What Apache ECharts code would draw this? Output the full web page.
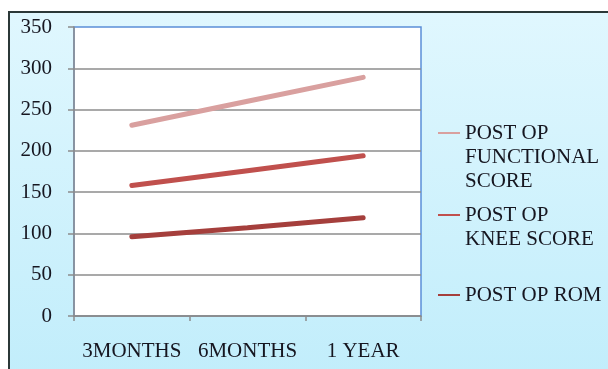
<!DOCTYPE html>
<html>
<head>
<meta charset="utf-8">
<script src="https://cdn.jsdelivr.net/npm/echarts@6/dist/echarts.min.js"></script>
<style>
  html, body { margin: 0; padding: 0; background: #fff; }
  #chart { width: 608px; height: 369px; }
</style>
</head>
<body>
<div id="chart"></div>
<script>
var categories = ['3MONTHS', '6MONTHS', '1 YEAR'];
var functionalScore = [231, 260, 289];
var kneeScore = [158, 176, 194];
var romScore = [96, 107, 119];
var seriesNames = ['POST OP FUNCTIONAL SCORE', 'POST OP KNEE SCORE', 'POST OP ROM'];

var chartStyles = {
  colors: {
    functional: '#d9a09f',
    knee: '#c0504d',
    rom: '#a53f3c',
    grid: '#8c8c8c',
    text: '#161620'
  },
  typography: {
    fontFamily: 'Liberation Serif',
    fontSize: 21
  }
};

var kneeChart = echarts.init(document.getElementById('chart'));

function legendFor(name, top, text) {
  return {
    data: [name],
    left: 438,
    top: top,
    padding: 0,
    icon: 'rect',
    itemWidth: 22,
    itemHeight: 2,
    itemGap: 0,
    formatter: function () { return text; },
    textStyle: {
      fontFamily: chartStyles.typography.fontFamily,
      fontSize: chartStyles.typography.fontSize,
      lineHeight: 24,
      color: chartStyles.colors.text
    }
  };
}

var option = {
  animation: false,
  graphic: [{
    type: 'rect',
    z: -10,
    shape: { x: 9, y: 12, width: 620, height: 380 },
    style: {
      fill: new echarts.graphic.LinearGradient(0, 0, 0, 1, [
        { offset: 0, color: '#e0f7fe' },
        { offset: 1, color: '#c0edfb' }
      ]),
      stroke: '#2b3838',
      lineWidth: 2
    }
  }],
  legend: [
    legendFor(seriesNames[0], 73, '\n\nPOST OP\nFUNCTIONAL\nSCORE'),
    legendFor(seriesNames[1], 179, '\nPOST OP\nKNEE SCORE'),
    legendFor(seriesNames[2], 283, 'POST OP ROM')
  ],
  grid: {
    left: 74,
    right: 187,
    top: 27,
    bottom: 53,
    show: true,
    backgroundColor: '#ffffff',
    borderColor: '#5b8ed8',
    borderWidth: 1.5
  },
  xAxis: {
    type: 'category',
    data: categories,
    boundaryGap: true,
    axisLine: { lineStyle: { color: chartStyles.colors.grid, width: 1.5 } },
    axisTick: { show: true, interval: 0, length: 5, lineStyle: { color: chartStyles.colors.grid, width: 1.5 } },
    axisLabel: {
      interval: 0,
      hideOverlap: false,
      margin: 25,
      fontFamily: chartStyles.typography.fontFamily,
      fontSize: chartStyles.typography.fontSize,
      color: chartStyles.colors.text
    }
  },
  yAxis: {
    type: 'value',
    min: 0,
    max: 350,
    interval: 50,
    axisLine: { show: true, lineStyle: { color: chartStyles.colors.grid, width: 1.5 } },
    axisTick: { show: true, length: 6, lineStyle: { color: chartStyles.colors.grid, width: 1.5 } },
    splitLine: { show: true, showMaxLine: false, lineStyle: { color: chartStyles.colors.grid, width: 1.5 } },
    axisLabel: {
      margin: 22,
      fontFamily: chartStyles.typography.fontFamily,
      fontSize: chartStyles.typography.fontSize,
      color: chartStyles.colors.text
    }
  },
  series: [
    {
      name: seriesNames[0],
      type: 'line',
      data: functionalScore,
      symbol: 'none',
      color: chartStyles.colors.functional,
      lineStyle: { width: 5, cap: 'round' }
    },
    {
      name: seriesNames[1],
      type: 'line',
      data: kneeScore,
      symbol: 'none',
      color: chartStyles.colors.knee,
      lineStyle: { width: 5, cap: 'round' }
    },
    {
      name: seriesNames[2],
      type: 'line',
      data: romScore,
      symbol: 'none',
      color: chartStyles.colors.rom,
      lineStyle: { width: 5, cap: 'round' }
    }
  ]
};

kneeChart.setOption(option);
</script>
</body>
</html>
